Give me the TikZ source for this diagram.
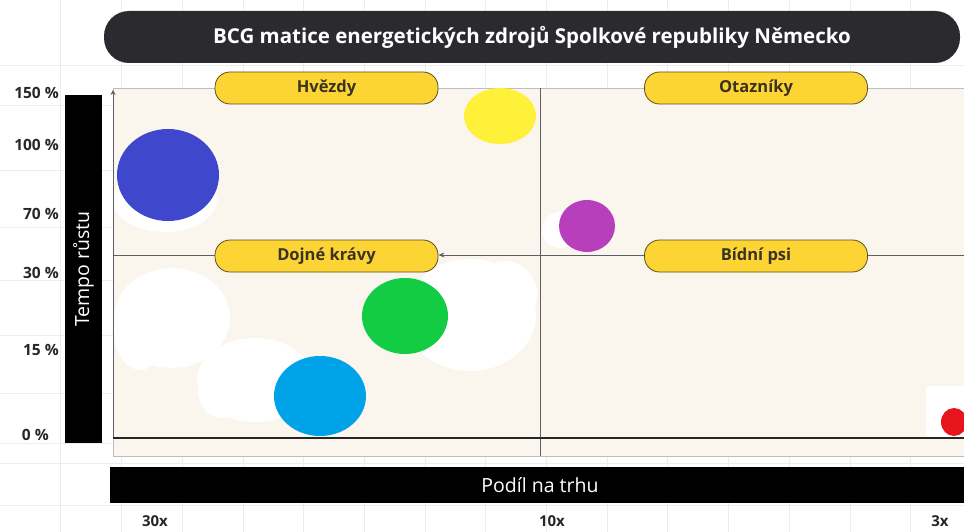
\documentclass[tikz,border=0pt]{standalone}
\usepackage{fontspec}
\setmainfont{Open Sans}
\usetikzlibrary{arrows.meta,positioning,shapes.geometric}
\definecolor{titlegray}{HTML}{2B2B2F}
\definecolor{panelcream}{HTML}{FAF6EE}
\definecolor{paneledge}{HTML}{BDBDBD}
\definecolor{gridgray}{HTML}{ECECEC}
\definecolor{divgray}{HTML}{5E5E66}
\definecolor{labelyellow}{HTML}{FCD535}
\definecolor{labeledge}{HTML}{5C4E1E}
\definecolor{labeltext}{HTML}{3A3320}
\definecolor{ticktext}{HTML}{262626}
\definecolor{bviolet}{HTML}{3F48CC}
\definecolor{byellow}{HTML}{FFF03A}
\definecolor{bpurple}{HTML}{B83FBB}
\definecolor{bgreen}{HTML}{12CC44}
\definecolor{bblue}{HTML}{00A2E8}
\definecolor{bred}{HTML}{E8141C}
\tikzset{
  quadlabel/.style={rectangle,rounded corners=15pt,draw=labeledge,line width=0.8pt,
    fill=labelyellow,minimum width=223pt,minimum height=32pt,inner sep=0pt,
    text=labeltext,font=\bfseries\fontsize{16.5}{18}\selectfont},
  ticklabel/.style={anchor=east,text=ticktext,inner sep=0pt,
    font=\bfseries\fontsize{15.5}{17}\selectfont},
  xticklabel/.style={text=ticktext,inner sep=0pt,font=\bfseries\fontsize{15}{17}\selectfont},
  bubble/.style={ellipse,inner sep=0pt,draw=none},
  axisbar/.style={fill=black,text=white,inner sep=0pt,font=\fontsize{19.5}{22}\selectfont},
  erased/.style={fill=white,draw=none}
}
\begin{document}
\begin{tikzpicture}[x=1pt,y=-1pt]
\useasboundingbox (0,0) rectangle (964,532);
% background grid
\foreach \gx in {60.7,121.4,...,964} \draw[gridgray,line width=0.6pt] (\gx,0) -- (\gx,532);
\foreach \gy in {65,105,170,227,280,335,393,443,463,505} \draw[gridgray,line width=0.6pt] (0,\gy) -- (964,\gy);
% title
\node (title) [rectangle,rounded corners=25pt,fill=titlegray,text=white,minimum width=856pt,
  minimum height=52pt,font=\bfseries\fontsize{20.5}{23}\selectfont] at (532,37)
  {BCG matice energetických zdrojů Spolkové republiky Německo};
% panel
\fill[panelcream] (113,88) rectangle (970,456);
\draw[paneledge,line width=0.8pt] (970,88) -- (113,88) -- (113,456) -- (970,456);
% erased patches
\fill[erased] (165,200) ellipse (52pt and 32pt);
\fill[erased] (172,318) ellipse (58pt and 50pt);
\fill[erased] (140,330) ellipse (26pt and 40pt);
\fill[erased] (255,380) ellipse (58pt and 42pt);
\fill[erased] (222,390) ellipse (24pt and 28pt);
\fill[erased] (470,315) ellipse (66pt and 56pt);
\fill[erased] (505,295) ellipse (32pt and 34pt);
\fill[erased] (560,230) ellipse (18pt and 18pt);
\fill[erased,rounded corners=3pt] (926,386) rectangle (970,437);
% dividers
\coordinate (vtop) at (540,88);
\coordinate (vbot) at (540,456);
\coordinate (midL) at (113,255);
\coordinate (midR) at (970,255);
\draw[divgray,line width=0.8pt] (vtop) -- (vbot);
% quadrant labels
\node (hvezdy) [quadlabel] at (326.5,88) {Hvězdy};
\node (otazniky) [quadlabel] at (756,88) {Otazníky};
\node (dojne) [quadlabel] at (326.5,256) {Dojné krávy};
\node (bidni) [quadlabel] at (756,256) {Bídní psi};
\draw[divgray,line width=0.8pt] (midR) -- (bidni.east |- midR);
\draw[divgray,line width=0.8pt,-{Stealth[length=6pt,width=5pt]}] (bidni.west |- midR) -- (dojne.east |- midR);
\draw[divgray,line width=0.8pt] (dojne.west |- midR) -- (midL);
% axes
\coordinate (origin) at (113,438);
\coordinate (ytop) at (113,90);
\coordinate (xend) at (970,438);
\draw[divgray,line width=0.8pt,-{Stealth[length=5pt,width=5pt]}] (origin) -- (ytop);
\draw[black!85,line width=1.3pt] (origin) -- (xend);
% bubbles
\node (sviolet) [bubble,fill=bviolet,minimum width=102pt,minimum height=92pt] at (168,175) {};
\node (syellow) [bubble,fill=byellow,minimum width=72pt,minimum height=56pt] at (500,116) {};
\node (spurple) [bubble,fill=bpurple,minimum width=56pt,minimum height=52pt] at (587,226) {};
\node (sgreen) [bubble,fill=bgreen,minimum width=86pt,minimum height=76pt] at (405,316) {};
\node (sblue) [bubble,fill=bblue,minimum width=92pt,minimum height=80pt] at (320,396) {};
\node (sred) [bubble,fill=bred,minimum width=26pt,minimum height=28pt] at (954,422) {};
% axis bars
\node (ybar) [axisbar,rotate=90,minimum width=348pt,minimum height=37pt] at (83.5,269) {Tempo růstu};
\node (xbar) [axisbar,minimum width=860pt,minimum height=36pt] at (540,485) {Podíl na trhu};
% ticks
\node (t150) [ticklabel] at (59,93) {150 \%};
\node (t100) [ticklabel] at (59,145) {100 \%};
\node (t70) [ticklabel] at (59,214) {70 \%};
\node (t30) [ticklabel] at (59,273) {30 \%};
\node (t15) [ticklabel] at (59,350) {15 \%};
\node (t0) [ticklabel] at (49,435) {0 \%};
\node (x30) [xticklabel] at (155,521) {30x};
\node (x10) [xticklabel] at (552,521) {10x};
\node (x3) [xticklabel] at (940,521) {3x};
\end{tikzpicture}
\end{document}
